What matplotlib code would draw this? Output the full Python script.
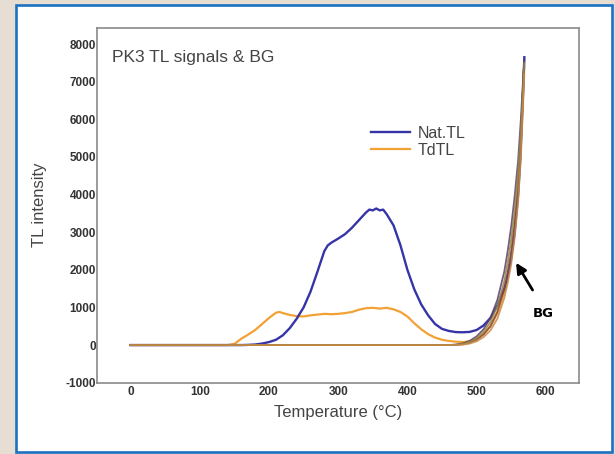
import matplotlib
matplotlib.use("Agg")
import matplotlib.pyplot as plt
from matplotlib.patches import Rectangle

# ---------------- data ----------------
nat_T = [0, 20, 40, 60, 80, 100, 120, 140, 160, 170, 180, 190, 200, 210, 220, 230,
         240, 250, 260, 270, 280, 285, 290, 300, 310, 320, 330, 340, 345, 350, 355,
         360, 365, 370, 380, 390, 400, 410, 420, 430, 440, 450, 460, 470, 480, 490,
         500, 510, 520, 530, 540, 545, 550, 555, 560, 563, 566, 568, 569]
nat_tl = [0, 0, 0, 0, 0, 0, 0, 0, 0, 5, 15, 40, 80, 140, 260, 450,
          700, 1000, 1420, 1950, 2500, 2650, 2720, 2830, 2950, 3120, 3320, 3520, 3600, 3580, 3630,
          3580, 3600, 3480, 3180, 2650, 2000, 1480, 1080, 790, 560, 430, 375, 345, 340, 350,
          400, 520, 720, 1050, 1500, 1850, 2300, 3000, 4000, 4900, 6200, 7100, 7650]

td_T = [0, 20, 40, 60, 80, 100, 120, 140, 150, 160, 170, 180, 190, 200, 210, 215,
        220, 230, 240, 250, 260, 270, 280, 290, 300, 310, 320, 330, 340, 350, 360,
        370, 380, 390, 400, 410, 420, 430, 440, 450, 460, 470, 480, 490, 500, 510,
        520, 530, 540, 545, 550, 555, 560, 563, 566, 568]
td_tl = [0, 0, 0, 0, 0, 0, 0, 0, 30, 170, 280, 400, 560, 720, 860, 880,
         850, 800, 770, 760, 790, 810, 830, 820, 830, 850, 880, 940, 980, 990, 970,
         990, 950, 880, 760, 580, 420, 290, 200, 140, 110, 90, 80, 100, 170, 290,
         500, 850, 1400, 1800, 2300, 3000, 4100, 5000, 6300, 7300]

bg_T = [0, 100, 200, 300, 400, 460, 470, 480, 490, 500, 510, 520, 530, 540, 545,
        550, 555, 560, 564, 567, 569]
bg_1 = [0, 0, 0, 0, 0, 0, 15, 45, 110, 230, 420, 720, 1200, 1950, 2500,
        3150, 3950, 4900, 6000, 7000, 7600]
bg_2 = [0, 0, 0, 0, 0, 0, 5, 20, 60, 140, 280, 500, 880, 1500, 1950,
        2500, 3250, 4200, 5400, 6600, 7400]
bg_3 = [0, 0, 0, 0, 0, 0, 8, 30, 80, 180, 350, 610, 1030, 1700, 2200,
        2800, 3600, 4550, 5700, 6800, 7500]
bg_4 = [0, 0, 0, 0, 0, 0, 3, 12, 40, 100, 210, 390, 700, 1250, 1650,
        2150, 2850, 3800, 5000, 6300, 7200]

xticks = [0, 100, 200, 300, 400, 500, 600]
yticks = [-1000, 0, 1000, 2000, 3000, 4000, 5000, 6000, 7000, 8000]

# ---------------- figure ----------------
plt.rcParams['font.family'] = ['Liberation Sans', 'DejaVu Sans']
plt.rcParams['axes.unicode_minus'] = False
W, H = 615, 454
fig = plt.figure(figsize=(W / 100, H / 100), dpi=100)
fig.patch.set_facecolor('#e6ded2')

def px(x, y):
    return x / W, 1 - y / H

x0, y1 = px(16, 5)
x1, y0 = px(612, 452)
fig.patches.append(Rectangle((x0, y0), x1 - x0, y1 - y0, transform=fig.transFigure,
                             facecolor='white', edgecolor='#1b72c2', linewidth=1.9,
                             zorder=-5))

ax_l, ax_t = px(96.7, 27.5)
ax_r, ax_b = px(579, 382.7)
ax = fig.add_axes([ax_l, ax_b, ax_r - ax_l, ax_t - ax_b])
ax.set_zorder(2)
ax.set_facecolor('white')

ax.plot(td_T, td_tl, color='#f2a235', lw=1.6, label='TdTL', zorder=3)
ax.plot(nat_T, nat_tl, color='#3535a8', lw=1.7, label='Nat.TL', zorder=4)
for vals, c in [(bg_1, '#5e3d6e'), (bg_2, '#8e4a36'), (bg_3, '#8f8a45'), (bg_4, '#c98a48')]:
    ax.plot(bg_T, vals, color=c, lw=1.3, alpha=0.85, zorder=5)

ax.set_xlim(-49, 648)
ax.set_ylim(-1000, 8440)
ax.set_xticks(xticks)
ax.set_yticks(yticks)
ax.tick_params(length=0, labelsize=8.5, labelcolor='#333333')
ax.tick_params(axis='x', pad=2.5)
ax.tick_params(axis='y', pad=0.5)
for lab in ax.get_xticklabels() + ax.get_yticklabels():
    lab.set_fontweight('bold')
for s in ax.spines.values():
    s.set_color('#8a8a8a')
    s.set_linewidth(1.2)

ax.set_xlabel('Temperature (°C)', fontsize=12, color='#444444', labelpad=5)
ax.set_ylabel('TL intensity', fontsize=12, color='#444444', labelpad=13)

tx, ty = px(111.7, 57.3)
ax.text(tx, ty, 'PK3 TL signals & BG', fontsize=12.5, color='#444444', va='center', ha='left',
        transform=fig.transFigure)

lx, ly = px(365, 141.7)
h, l = ax.get_legend_handles_labels()
leg = ax.legend([h[1], h[0]], [l[1], l[0]], loc='center left', bbox_to_anchor=(lx, ly),
                bbox_transform=fig.transFigure, frameon=False, fontsize=11.5,
                handlelength=2.4, handletextpad=0.5, labelspacing=0.15, borderaxespad=0)
for t in leg.get_texts():
    t.set_color('#444444')

ax.annotate('', xy=(555, 2250), xytext=(583, 1400),
            arrowprops=dict(arrowstyle='-|>', color='black', lw=2.0, mutation_scale=15))
ax.text(596, 830, 'BG', fontsize=9.5, fontweight='bold', family='DejaVu Sans',
        ha='center', va='center', color='black')

fig.savefig('out.png', dpi=100, facecolor=fig.get_facecolor())
